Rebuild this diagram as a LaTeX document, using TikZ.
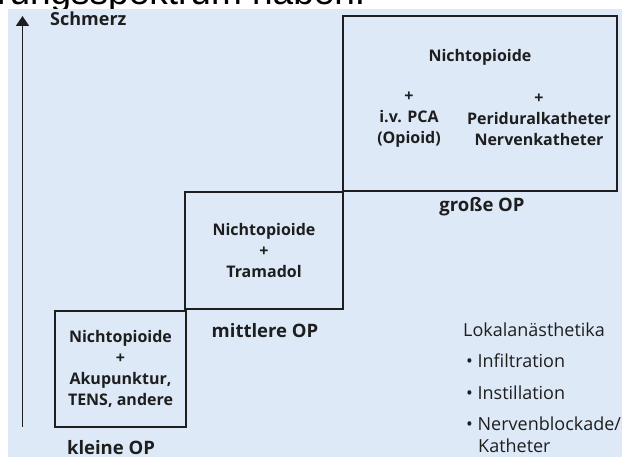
\documentclass[tikz,border=0pt]{standalone}
\usepackage{fontspec}
\setmainfont{Open Sans}
\setsansfont{Liberation Sans}
\usetikzlibrary{arrows.meta}
\definecolor{bgblue}{RGB}{221,233,247}
\definecolor{ink}{RGB}{30,30,30}
\begin{document}
\begin{tikzpicture}[x=1pt, y=-1pt, font=\fontsize{16}{21}\selectfont\bfseries, text=ink]
\tikzstyle{op}=[draw=ink, line width=2pt, inner sep=0pt]
\tikzstyle{txt}=[align=center, inner sep=0pt]
\tikzstyle{lbl}=[font=\fontsize{18.5}{20}\selectfont\bfseries, anchor=base, inner sep=0pt]
\tikzstyle{la}=[font=\fontsize{18}{20}\selectfont, anchor=base west, inner sep=0pt]
\useasboundingbox (0,0) rectangle (622,457);
\fill[bgblue] (8,9) rectangle (622,457);
\begin{scope}
\clip (0,0) rectangle (622,8.5);
\node[anchor=base west, inner sep=0pt, font=\sffamily\fontsize{37}{37}\selectfont, text=black] (cut) at (-3,5) {rungsspektrum haben.};
\end{scope}
% axis
\coordinate (ybot) at (22.5,427);
\coordinate (ytop) at (22.5,16);
\draw[ink, line width=1.6pt, -{Triangle[length=10pt,width=13pt]}] (ybot) -- (ytop);
\node[lbl, anchor=base west, font=\fontsize{18}{20}\selectfont\bfseries] (schmerz) at (50,26) {Schmerz};
% steps
\node[op, minimum width=131, minimum height=116] (klein) at (120.5,369) {};
\node[op, minimum width=158, minimum height=117] (mittel) at (264,250.5) {};
\node[op, minimum width=274, minimum height=175] (gross) at (480,103.5) {};
\node[txt] (kleintxt) at (klein.center) {Nichtopioide\\+\\Akupunktur,\\TENS, andere};
\node[txt] (mitteltxt) at (mittel.center) {Nichtopioide\\+\\Tramadol};
\node[txt] (grosstxt) at (480,57) {Nichtopioide};
\node[txt] (pca) at (409,120) {+\\i.v. PCA\\(Opioid)};
\node[txt] (pdk) at (539,120) {+\\Periduralkatheter\\Nervenkatheter};
\node[lbl] (kleinop) at (111,454) {kleine OP};
\node[lbl] (mittelop) at (265,338) {mittlere OP};
\node[lbl] (grossop) at (482,212) {große OP};
% Lokalanaesthetika
\node[la] (lokal) at (463,337) {Lokalanästhetika};
\node[la] (infil) at (466,368) {•\ Infiltration};
\node[la] (instil) at (466,400) {•\ Instillation};
\node[la] (nerv) at (466,431) {•\ Nervenblockade/};
\node[la] (kath) at (478,453) {Katheter};
\end{tikzpicture}
\end{document}
